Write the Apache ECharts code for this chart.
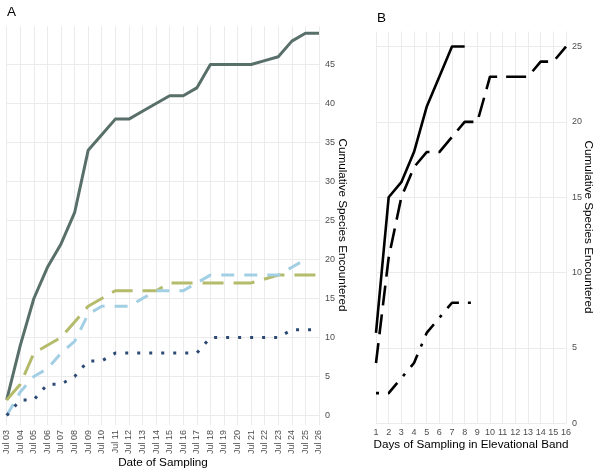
<!DOCTYPE html>
<html>
<head>
<meta charset="utf-8">
<script src="https://cdn.jsdelivr.net/npm/echarts@6/dist/echarts.min.js"></script>
<style>html,body{margin:0;padding:0;background:#fff}#c{width:600px;height:475px}</style>
</head>
<body>
<div id="c"></div>
<script>
// ---------- Panel A data ----------
const datesA = ['Jul 03','Jul 04','Jul 05','Jul 06','Jul 07','Jul 08','Jul 09','Jul 10','Jul 11','Jul 12','Jul 13','Jul 14','Jul 15','Jul 16','Jul 17','Jul 18','Jul 19','Jul 20','Jul 21','Jul 22','Jul 23','Jul 24','Jul 25','Jul 26'];
const totalA  = [2, 9, 15, 19, 22, 26, 34, 36, 38, 38, 39, 40, 41, 41, 42, 45, 45, 45, 45, 45.5, 46, 48, 49, 49];
const greenA  = [2, 4, 8, 9, 10, 12, 14, 15, 16, 16, 16, 16, 17, 17, 17, 17, 17, 17, 17, 17.5, 18, 18, 18, 18];
const blueA   = [0, 3, 5, 6, 8, 9.5, 13, 14, 14, 14, 15, 16, 16, 16, 17, 18, 18, 18, 18, 18, 18, 19, 20, null];
const navyA   = [0, 2, 2, 4, 4, 5, 7, 7, 8, 8, 8, 8, 8, 8, 8, 10, 10, 10, 10, 10, 10, 11, 11, 11];
const yTickStepA = 5;

// ---------- Panel B data ----------
const daysB    = [1, 2, 3, 4, 5, 6, 7, 8, 9, 10, 11, 12, 13, 14, 15, 16];
const solidB   = [6, 15, 16, 18, 21, 23, 25, 25];
const dashedB  = [4, 11, 15, 17, 18, 18, 19, 20, 20, 23, 23, 23, 23, 24, 24, 25];
const dotdashB = [2, 2, 3, 4, 6, 7, 8, 8, 8];
const yTickStepB = 5;

const toPairs = (vals) => vals.map((v, i) => [daysB[i], v]);

const FONT = 'Liberation Sans, Arial, Helvetica, sans-serif';
const GRID = '#ebebeb';
const TICK = '#4d4d4d';

const chart = echarts.init(document.getElementById('c'), null, {renderer: 'canvas'});

const lineBase = {type: 'line', showSymbol: false, symbol: 'none', animation: false, silent: true};

chart.setOption({
  animation: false,
  backgroundColor: '#ffffff',
  textStyle: {fontFamily: FONT},
  grid: [
    {left: 6.7, top: 26.3, width: 312.3, height: 398.7, outerBoundsMode: 'none', containLabel: false},
    {left: 6.7, top: 26.3, width: 312.3, height: 389.2, outerBoundsMode: 'none', containLabel: false},
    {left: 376, top: 31.5, width: 190, height: 391.8, outerBoundsMode: 'none', containLabel: false}
  ],
  xAxis: [
    {gridIndex: 0, type: 'category', data: datesA, boundaryGap: false,
     axisLine: {show: false}, axisTick: {show: false},
     splitLine: {show: true, interval: 0, lineStyle: {color: GRID, width: 1}},
     axisLabel: {interval: 0, rotate: 90, margin: 5, fontSize: 9, color: TICK, fontFamily: FONT}},
    {gridIndex: 1, type: 'category', data: datesA, boundaryGap: false, show: false},
    {gridIndex: 2, type: 'value', min: 1, max: 16, interval: 1,
     axisLine: {show: false}, axisTick: {show: false},
     splitLine: {show: true, lineStyle: {color: GRID, width: 1}},
     axisLabel: {margin: 5, fontSize: 9, color: TICK, fontFamily: FONT}}
  ],
  yAxis: [
    {gridIndex: 0, type: 'value', show: false, min: 0, max: 1},
    {gridIndex: 1, type: 'value', position: 'right', min: 0, max: 49.9, interval: yTickStepA,
     axisLine: {show: false}, axisTick: {show: false},
     splitLine: {show: true, showMaxLine: false, lineStyle: {color: GRID, width: 1}},
     axisLabel: {margin: 6, fontSize: 9, color: TICK, fontFamily: FONT, showMaxLabel: false}},
    {gridIndex: 2, type: 'value', position: 'right', min: 0, max: 26, interval: yTickStepB,
     axisLine: {show: false}, axisTick: {show: false},
     splitLine: {show: true, showMaxLine: false, lineStyle: {color: GRID, width: 1}},
     axisLabel: {margin: 6, fontSize: 9, color: TICK, fontFamily: FONT, showMaxLabel: false}}
  ],
  series: [
    Object.assign({}, lineBase, {name: 'Total', xAxisIndex: 1, yAxisIndex: 1, data: totalA,
      lineStyle: {color: '#586f6a', width: 3, type: 'solid', join: 'round'}}),
    Object.assign({}, lineBase, {name: 'Green', xAxisIndex: 1, yAxisIndex: 1, data: greenA,
      lineStyle: {color: '#b4bb6a', width: 3, type: [21, 10], join: 'round'}}),
    Object.assign({}, lineBase, {name: 'Blue', xAxisIndex: 1, yAxisIndex: 1, data: blueA,
      lineStyle: {color: '#a3cfe4', width: 3, type: [13, 10], join: 'round'}}),
    Object.assign({}, lineBase, {name: 'Navy', xAxisIndex: 1, yAxisIndex: 1, data: navyA,
      lineStyle: {color: '#2c4a73', width: 3, type: [3, 9], join: 'round'}}),
    Object.assign({}, lineBase, {name: 'B solid', xAxisIndex: 2, yAxisIndex: 2, data: toPairs(solidB),
      lineStyle: {color: '#000', width: 2.6, type: 'solid', join: 'round'}}),
    Object.assign({}, lineBase, {name: 'B dashed', xAxisIndex: 2, yAxisIndex: 2, data: toPairs(dashedB),
      lineStyle: {color: '#000', width: 2.6, type: [20, 9], join: 'round'}}),
    Object.assign({}, lineBase, {name: 'B dotdash', xAxisIndex: 2, yAxisIndex: 2, data: toPairs(dotdashB),
      lineStyle: {color: '#000', width: 2.6, type: [3, 9, 14, 9], join: 'round'}})
  ],
  graphic: [
    {type: 'text', x: 7, y: 12.5, style: {text: 'A', fontSize: 13.5, fontFamily: FONT, fill: '#000', align: 'left', verticalAlign: 'middle'}},
    {type: 'text', x: 377, y: 18, style: {text: 'B', fontSize: 13.5, fontFamily: FONT, fill: '#000', align: 'left', verticalAlign: 'middle'}},
    {type: 'text', x: 163, y: 463, style: {text: 'Date of Sampling', fontSize: 11.7, fontFamily: FONT, fill: '#000', align: 'center', verticalAlign: 'middle'}},
    {type: 'text', x: 342, y: 225, rotation: -Math.PI / 2, style: {text: 'Cumulative Species Encountered', fontSize: 11.7, fontFamily: FONT, fill: '#000', align: 'center', verticalAlign: 'middle'}},
    {type: 'text', x: 471, y: 445, style: {text: 'Days of Sampling in Elevational Band', fontSize: 11.7, fontFamily: FONT, fill: '#000', align: 'center', verticalAlign: 'middle'}},
    {type: 'text', x: 588, y: 227, rotation: -Math.PI / 2, style: {text: 'Cumulative Species Encountered', fontSize: 11.7, fontFamily: FONT, fill: '#000', align: 'center', verticalAlign: 'middle'}}
  ]
});
</script>
</body>
</html>
